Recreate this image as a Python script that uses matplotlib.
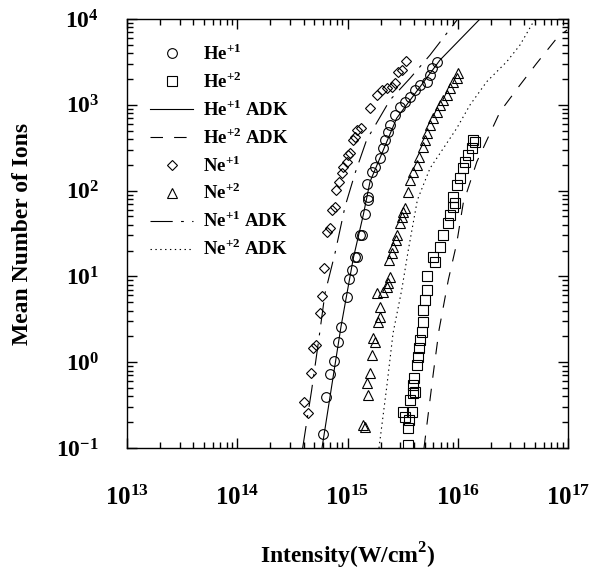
import numpy as np
import matplotlib
matplotlib.use("Agg")
import matplotlib.pyplot as plt
from matplotlib.ticker import LogLocator, NullFormatter

plt.rcParams["font.family"] = ["Liberation Serif", "DejaVu Serif"]
plt.rcParams["font.weight"] = "bold"
plt.rcParams["lines.scale_dashes"] = False

# He+1 measured (circles)
he1_x = [6.04e14, 6.38e14, 6.94e14, 7.59e14, 8.25e14, 8.73e14, 9.84e14, 1.03e15, 1.09e15,
         1.17e15, 1.21e15, 1.30e15, 1.35e15, 1.44e15, 1.54e15, 1.52e15, 1.49e15, 1.66e15,
         1.78e15, 1.97e15, 2.11e15, 2.19e15, 2.35e15, 2.43e15, 2.70e15, 2.99e15, 3.32e15,
         3.69e15, 4.09e15, 4.55e15, 5.23e15, 5.60e15, 5.80e15, 6.44e15]
he1_y = [0.144, 0.396, 0.72, 1.04, 1.73, 2.6, 5.7, 9.3, 11.9,
         16.7, 16.7, 30.4, 30.4, 53.3, 77.7, 85, 118, 166,
         190, 240, 314, 389, 486, 582, 760, 950, 1087,
         1241, 1486, 1702, 1858, 2222, 2662, 3178]

# He+2 measured (squares)
he2_x = [3.56e15, 3.56e15, 3.64e15, 3.32e15, 3.21e15, 3.82e15, 3.69e15, 3.95e15, 4.09e15,
         3.95e15, 4.04e15, 4.24e15, 4.39e15, 4.48e15, 4.55e15, 4.71e15, 4.87e15, 4.87e15,
         5.05e15, 5.23e15, 5.30e15, 6.22e15, 6.00e15, 6.90e15, 7.40e15, 8.21e15, 8.51e15,
         9.12e15, 9.44e15, 9.12e15, 9.78e15, 1.05e16, 1.12e16, 1.16e16, 1.25e16, 1.34e16,
         1.43e16, 1.38e16]
he2_y = [0.108, 0.170, 0.212, 0.232, 0.265, 0.265, 0.362, 0.434, 0.453,
         0.542, 0.649, 0.927, 1.16, 1.45, 1.82, 2.27, 2.96, 4.05,
         5.31, 6.93, 10.1, 14.8, 17.0, 22.2, 30.4, 41.6, 52,
         64.9, 71, 85, 116, 139, 182, 217, 260, 311,
         372, 389]

# Ne+1 measured (diamonds)
ne1_x = [4.41e14, 4.03e14, 4.64e14, 4.90e14, 5.18e14, 5.63e14, 5.87e14, 6.12e14, 6.48e14,
         6.94e14, 7.19e14, 7.70e14, 7.86e14, 8.43e14, 8.86e14, 9.16e14, 9.84e14, 1.02e15,
         1.05e15, 1.13e15, 1.17e15, 1.21e15, 1.33e15, 1.60e15, 1.84e15, 2.04e15, 2.27e15,
         2.52e15, 2.70e15, 2.89e15, 3.10e15, 3.40e15]
ne1_y = [0.254, 0.347, 0.743, 1.45, 1.58, 3.71, 5.92, 12.4, 32.9,
         36.6, 59.4, 64.9, 102, 127, 159, 190, 217, 260,
         272, 389, 425, 508, 532, 910, 1300, 1486, 1556,
         1626, 1782, 2432, 2546, 3266]

# Ne+2 measured (triangles)
ne2_x = [1.39e15, 1.44e15, 1.54e15, 1.49e15, 1.60e15, 1.66e15, 1.71e15, 1.78e15, 1.90e15,
         1.97e15, 1.97e15, 1.84e15, 2.11e15, 2.27e15, 2.34e15, 2.43e15, 2.39e15, 2.52e15,
         2.60e15, 2.75e15, 2.83e15, 2.99e15, 3.10e15, 3.21e15, 3.32e15, 3.56e15, 3.69e15,
         3.95e15, 4.24e15, 4.48e15, 4.87e15, 5.05e15, 5.23e15, 5.60e15, 6.00e15, 6.44e15,
         6.90e15, 7.40e15, 7.94e15, 8.51e15, 9.12e15, 9.78e15, 1.01e16]
ne2_y = [0.185, 0.174, 0.415, 0.577, 0.743, 1.21, 1.90, 1.73, 2.96,
         3.39, 4.43, 6.36, 6.64, 7.59, 8.32, 9.75, 15.5, 18.6,
         22.2, 26.5, 30.4, 41.6, 49.7, 56.8, 62.3, 97, 133,
         166, 199, 248, 325, 389, 466, 582, 697, 832,
         995, 1138, 1300, 1556, 1858, 2038, 2328]

# ADK curves
he1_adk_x = [5.87e14, 8.73e14, 1.13e15, 1.39e15, 1.60e15, 2.79e15, 6.90e15, 1.59e16]
he1_adk_y = [0.1, 2.6, 16.4, 52, 127, 697, 3325, 1e4]

he2_adk_x = [4.94e15, 6.0e15, 6.76e15, 8.21e15, 9.78e15, 1.12e16, 1.49e16, 2.42e16,
             3.67e16, 5.2e16, 7.9e16, 9.8e16]
he2_adk_y = [0.1, 0.743, 2.37, 9.1, 24.3, 71, 217, 832, 1702, 3050, 5960, 7450]

ne1_adk_x = [3.92e14, 4.73e14, 5.43e14, 6.25e14, 7.70e14, 9.49e14, 1.17e15, 1.49e15,
             2.43e15, 3.69e15, 5.6e15, 1.0e16]
ne1_adk_y = [0.1, 0.474, 1.66, 6.36, 18.6, 64.9, 159, 389, 1138, 2038, 3800, 1e4]

ne2_adk_x = [1.93e15, 2.27e15, 2.59e15, 3.10e15, 3.56e15, 4.30e15, 5.60e15, 7.40e15,
             9.78e15, 1.29e16, 1.83e16, 2.78e16, 3.67e16, 5.02e16]
ne2_adk_y = [0.1, 0.518, 2.19, 6.93, 20.3, 77.6, 182, 311, 532, 995, 1858, 3178, 4980, 1e4]

fig = plt.figure(figsize=(5.92, 5.71), dpi=100)
ax = fig.add_axes([0.2145, 0.2154, 0.745, 0.7513])

mk = dict(linestyle="none", markerfacecolor="none", markeredgecolor="black", markeredgewidth=0.8)
lw = 0.8
ax.plot(he1_x, he1_y, marker="o", markersize=7, label=r"He$^{\mathdefault{+1}}$", **mk)
ax.plot(he2_x, he2_y, marker="s", markersize=6.5, label=r"He$^{\mathdefault{+2}}$", **mk)
ax.plot(he1_adk_x, he1_adk_y, color="black", lw=lw, linestyle="-",
        label=r"He$^{\mathdefault{+1}}$ ADK")
ax.plot(he2_adk_x, he2_adk_y, color="black", lw=lw, linestyle=(0, (9, 8)),
        label=r"He$^{\mathdefault{+2}}$ ADK")
ax.plot(ne1_x, ne1_y, marker="D", markersize=5, label=r"Ne$^{\mathdefault{+1}}$", **mk)
ax.plot(ne2_x, ne2_y, marker="^", markersize=6.5, label=r"Ne$^{\mathdefault{+2}}$", **mk)
ax.plot(ne1_adk_x, ne1_adk_y, color="black", lw=lw, linestyle=(0, (16, 6, 2, 6)),
        label=r"Ne$^{\mathdefault{+1}}$ ADK")
ax.plot(ne2_adk_x, ne2_adk_y, color="black", lw=lw, linestyle=(0, (1, 2.5)),
        label=r"Ne$^{\mathdefault{+2}}$ ADK")

ax.set_xscale("log")
ax.set_yscale("log")
ax.set_xlim(1e13, 1e17)
ax.set_ylim(1e-1, 1e4)
for axis in (ax.xaxis, ax.yaxis):
    axis.set_minor_locator(LogLocator(base=10, subs=np.arange(2, 10), numticks=50))
    axis.set_minor_formatter(NullFormatter())
ax.tick_params(which="both", direction="in", top=True, right=True, width=1.0, color="black")
ax.tick_params(which="major", length=7)
ax.tick_params(which="minor", length=4)
ax.tick_params(axis="x", which="major", pad=27, labelsize=18)
ax.tick_params(axis="y", which="major", pad=20, labelsize=17)
for s in ax.spines.values():
    s.set_linewidth(1.0)

ax.set_xlabel("Intensity(W/cm$^{\\mathdefault{2}}$)", fontsize=17, fontweight="bold", labelpad=22)
ax.set_ylabel("Mean Number of Ions", fontsize=17, fontweight="bold", labelpad=17)

ax.legend(loc="upper left", bbox_to_anchor=(150 / 592, 1 - 43 / 571),
          bbox_transform=fig.transFigure, frameon=False, fontsize=13.5, numpoints=1,
          handlelength=2.3, handletextpad=0.55, labelspacing=0.38, borderpad=0, borderaxespad=0)

fig.savefig("out.png", dpi=100)
